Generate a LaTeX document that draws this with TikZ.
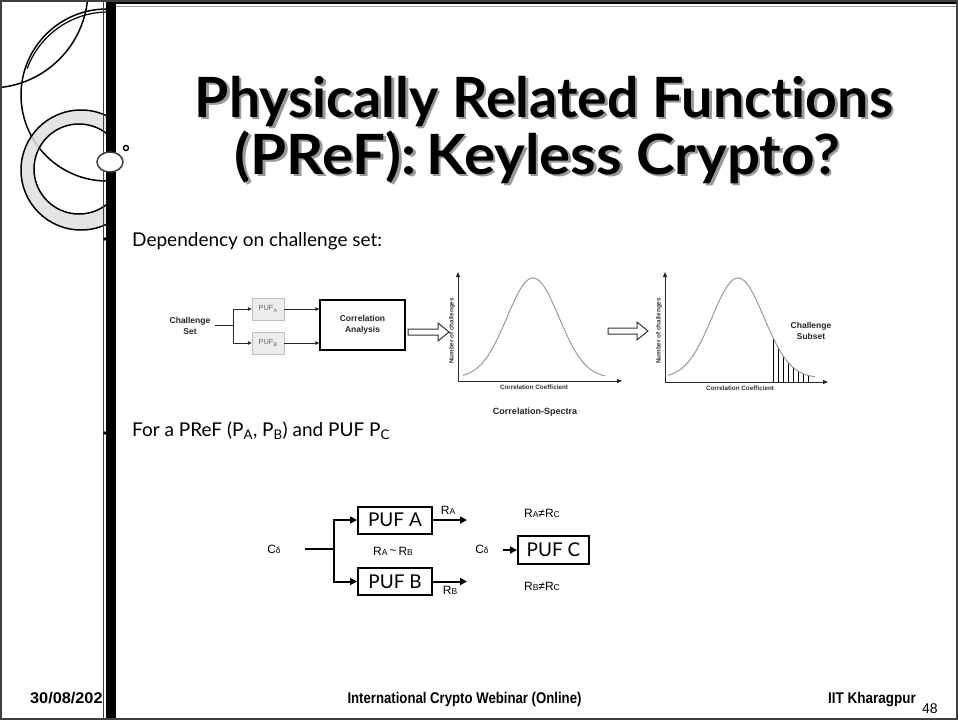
\documentclass[tikz,border=0pt]{standalone}
\usepackage{fontspec}
\usepackage{graphicx}
\setmainfont{Lato}[Ligatures={NoCommon}]
\newfontfamily\arialf{Liberation Sans}
\usetikzlibrary{arrows.meta,calc}
\newcommand\narrowtxt[2]{\scalebox{#1}[1]{#2}}
\newcommand\sm[1]{{\fontsize{8.5}{8.5}\selectfont #1}}
% heading text with a soft drop shadow behind it
\newcommand\shadowed[1]{\makebox[0pt][l]{\hspace{2.5pt}\raisebox{-2.5pt}{\textcolor{black!40}{#1}}}#1}

\begin{document}
\begin{tikzpicture}[x=1pt,y=-1pt,
  frameline/.style={draw=black!75,line width=1.2},
  titletext/.style={font=\bfseries\fontsize{55.5}{55.5}\selectfont,anchor=base,inner sep=0},
  bodytext/.style={font=\fontsize{19}{19}\selectfont,anchor=base west,inner sep=0},
  dlabel/.style={font=\arialf\bfseries\fontsize{8.5}{11}\selectfont,align=center,text=black!85,inner sep=1},
  axlabel/.style={font=\arialf\bfseries\fontsize{6.3}{7}\selectfont,text=black!80,inner sep=0},
  pufsmall/.style={draw=black!25,fill=black!7,minimum width=32,minimum height=22,inner sep=0,
    font=\arialf\fontsize{7.5}{8}\selectfont,text=black!60},
  thinarrow/.style={-{Triangle[length=4,width=3.5]},line width=0.8,draw=black!85},
  axis/.style={-{Triangle[length=5,width=4]},line width=1,draw=black!85},
  curve/.style={draw=black!40,line width=1},
  hollow/.style={draw=black!80,line width=1,fill=white},
  bigpuf/.style={draw,line width=2,minimum width=74,minimum height=27,inner sep=0,
    font=\fontsize{19}{19}\selectfont},
  flow/.style={line width=2},
  flowarrow/.style={line width=2,-{Triangle[length=7,width=7]}},
  rlabel/.style={font=\arialf\fontsize{12}{12}\selectfont,inner sep=1},
  foot/.style={font=\arialf\bfseries\fontsize{15.5}{15.5}\selectfont,inner sep=0}
]
% page
\fill[white] (0,0) rectangle (958,720);
\useasboundingbox (0,0) rectangle (958,720);

% left ornament: arcs and ring
\begin{scope}
  \clip (2,2) rectangle (106,718);
  \draw[line width=1.5] (-10,-10) circle[radius=98];
  \draw[line width=1.5] (107,95) circle[radius=86];
  \draw[line width=1.2] (108,98) ++(200:86) arc[start angle=200,end angle=280,radius=86];
  \fill[black!12,opacity=0.85,even odd rule] (81,170) circle[radius=60] (79,169) circle[radius=45];
  \draw[line width=1.5] (81,170) circle[radius=60];
  \draw[line width=1.5] (79,169) circle[radius=45];
\end{scope}

% title
\node[titletext] (t1) at (544,117) {\shadowed{Physically Related Functions}};
\node[titletext] (t2) at (537,174) {\narrowtxt{1.05}{\shadowed{(PReF):\,Keyless Crypto?}}};

% bullet lines
\node[bodytext] (b1) at (132,246) {Dependency on challenge set:};
\node[bodytext] (b2) at (132,436) {For a PReF (P\textsubscript{A}, P\textsubscript{B}) and PUF P\textsubscript{C}};

% challenge-set diagram
\node[dlabel] (cs) at (190,326) {Challenge\\Set};
\coordinate (cs0) at (215,325);
\coordinate (cj) at (233,325);
\node[pufsmall] (pufa) at (268,309) {PUF\textsubscript{A}};
\node[pufsmall] (pufb) at (268,343) {PUF\textsubscript{B}};
\node[draw,line width=1.3,minimum width=85,minimum height=50,dlabel] (ca) at (362.5,325) {Correlation\\Analysis};
\draw[line width=0.8,black!85] (cs0) -- (cj);
\draw[thinarrow] (cj) |- (pufa.west);
\draw[thinarrow] (cj) |- (pufb.west);
\draw[thinarrow] (pufa.east) -- (pufa.east -| ca.west);
\draw[thinarrow] (pufb.east) -- (pufb.east -| ca.west);

% hollow block arrows
\draw[hollow] (408,329) -- (438,329) -- (438,323) -- (449,332) -- (438,341) -- (438,335) -- (408,335) -- cycle;
\draw[hollow] (608,328) -- (637,328) -- (637,322) -- (648,331) -- (637,340) -- (637,334) -- (608,334) -- cycle;

% first spectrum
\coordinate (o1) at (458,381);
\draw[axis] (o1) -- (458,272);
\draw[axis] (o1) -- (622,381);
\draw[curve] plot[domain=463:605,samples=90,smooth] (\x,{378-100*exp(-((\x-533)^2)/1352)});
\node[axlabel,rotate=90] at (452,331) {Number of challenges};
\node[axlabel] at (534,387) {Correlation Coefficient};
\node[font=\arialf\bfseries\fontsize{9}{9}\selectfont,text=black!85] at (535,412) {Correlation-Spectra};

% second spectrum with the selected tail
\coordinate (o2) at (665,382);
\draw[axis] (o2) -- (665,272);
\draw[axis] (o2) -- (828,382);
\foreach \x in {773,778,...,808}
  \draw[line width=0.8] (\x,382) -- (\x,{378-100*exp(-((\x-738)^2)/1352)});
\draw[curve] plot[domain=668:815,samples=90,smooth] (\x,{378-100*exp(-((\x-738)^2)/1352)});
\node[axlabel,rotate=90] at (659,331) {Number of challenges};
\node[axlabel] at (740,388) {Correlation Coefficient};
\node[dlabel] at (811,331) {Challenge\\Subset};

% PReF / PUF diagram
\node[rlabel] (cd1) at (274,549) {C\sm{δ}};
\coordinate (s0) at (305,549);
\coordinate (sj) at (334,549);
\node[bigpuf] (pa) at (395,520) {PUF A};
\node[bigpuf] (pb) at (395,581.5) {PUF B};
\draw[flow] (s0) -- (sj);
\draw[flowarrow] (sj) |- (pa.west);
\draw[flowarrow] (sj) |- (pb.west);
\coordinate (ra) at (467,520);
\coordinate (rb) at (467,581.5);
\draw[flowarrow] (pa.east) -- (ra);
\draw[flowarrow] (pb.east) -- (rb);
\node[rlabel] at (448,510) {R\sm{A}};
\node[rlabel] at (450,590) {R\sm{B}};
\node[rlabel] at (393,551) {R\sm{A}\,\raisebox{1pt}{\textasciitilde}\,R\sm{B}};
\node[rlabel] (cd2) at (482,549) {C\sm{δ}};
\node[bigpuf,minimum width=71,minimum height=28] (pc) at (553.5,550) {PUF C};
\coordinate (cin) at (503,550);
\draw[flowarrow] (cin) -- (pc.west);
\node[rlabel] at (542,513) {R\sm{A}≠R\sm{C}};
\node[rlabel] at (542,586) {R\sm{B}≠R\sm{C}};

% footer
\node[foot,anchor=base west] (date) at (30,703) {\narrowtxt{1.05}{30/08/202}};
\node[foot,anchor=base] (conf) at (464.5,703) {\narrowtxt{0.85}{International Crypto Webinar (Online)}};
\node[foot,anchor=base east] (inst) at (916,703) {\narrowtxt{0.87}{IIT Kharagpur}};
\node[anchor=base west,inner sep=0,font=\arialf\fontsize{14}{14}\selectfont] (pg) at (922,713) {48};

% frame and vertical bar
\draw[line width=0.8,black!75] (103.5,0) -- (103.5,720);
\fill[black] (106,0) rectangle (115.5,720);
\draw[line width=3] (106,2.5) -- (957,2.5);
\draw[line width=0.8,black!40] (116,6.5) -- (957,6.5);
\draw[frameline] (1,1) rectangle (957,719);

% knob on the bar
\draw[fill=white,draw=black!75,line width=1.5] (110,162) ellipse[x radius=13,y radius=10];
\draw[line width=1.4] (126,148) circle[radius=2.5];

% bullet marks
\fill (105,239) circle[radius=1.8];
\fill (105,433) circle[radius=1.8];
\end{tikzpicture}
\end{document}
